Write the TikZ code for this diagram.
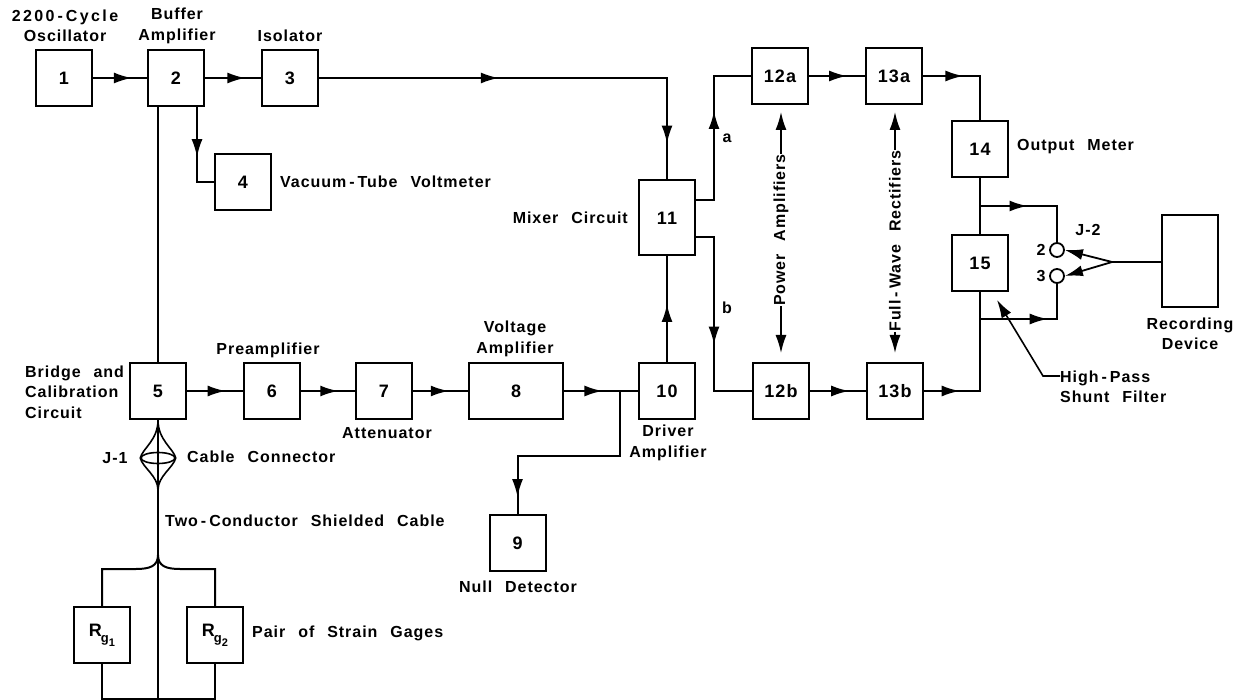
\documentclass[tikz,border=0pt]{standalone}
\usepackage{fontspec}
\usepackage{xcolor}
\usepackage{tikz}
\usetikzlibrary{arrows.meta,decorations.markings,shapes.geometric}
\setmainfont[LetterSpace=6,WordSpace=2.4]{Liberation Sans}
\newcommand{\Rgone}[1]{R\kern-1pt\raisebox{-6pt}{\fontsize{13}{13}\selectfont g\raisebox{-4pt}{\fontsize{11}{11}\selectfont #1}}}
\newcommand{\hy}{\kern3pt-\kern3pt}

\begin{document}
\begin{tikzpicture}[
    x=1pt, y=-1pt,
    box/.style={draw, rectangle, line width=2pt, minimum width=56pt, minimum height=56pt, inner sep=0pt, align=center, font=\fontsize{18}{20}\selectfont\bfseries},
    lbl/.style={align=center, inner sep=0pt, font=\fontsize{16}{20.5}\selectfont\bfseries},
    wire/.style={line width=2pt},
    thinwire/.style={line width=1.6pt},
    flow/.style={wire, postaction={decorate}, decoration={markings, mark=at position #1 with {\arrow{Latex[length=18pt,width=11pt]}}}},
    flowtwo/.style 2 args={wire, postaction={decorate}, decoration={markings, mark=at position #1 with {\arrow{Latex[length=18pt,width=11pt]}}, mark=at position #2 with {\arrow{Latex[length=18pt,width=11pt]}}}},
    arrow/.style={-{Latex[length=18pt,width=11pt]}, line width=1.8pt}
  ]
    \useasboundingbox (0,0) rectangle (1242,700);

    % Boxes
    \node[box] (osc) at (64,78) {1};
    \node[box] (buffer) at (176,78) {2};
    \node[box] (isolator) at (290,78) {3};
    \node[box] (vtvm) at (243,182) {4};
    \node[box] (bridge) at (158,391) {5};
    \node[box] (preamp) at (272,391) {6};
    \node[box] (atten) at (384,391) {7};
    \node[box, minimum width=94pt] (voltamp) at (516,391) {8};
    \node[box] (null) at (517.5,543) {9};
    \node[box] (driver) at (667,391) {10};
    \node[box, minimum height=75pt] (mixer) at (667,218) {11};
    \node[box] (powera) at (780,76) {12a};
    \node[box] (recta) at (894,76) {13a};
    \node[box] (powerb) at (781,391) {12b};
    \node[box] (rectb) at (895,391) {13b};
    \node[box] (meter) at (980,149) {14};
    \node[box] (filter) at (980,263) {15};
    \node[box, minimum height=92pt] (recorder) at (1190,261) {};
    \node[box] (gageone) at (102,635) {\Rgone{1}};
    \node[box] (gagetwo) at (215,635) {\Rgone{2}};
    \node[draw, circle, line width=1.8pt, minimum size=14pt, inner sep=0pt] (jacktwo) at (1057,250) {};
    \node[draw, circle, line width=1.8pt, minimum size=14pt, inner sep=0pt] (jackthree) at (1057,276) {};
    \node[draw, ellipse, thinwire, minimum width=34pt, minimum height=11pt, inner sep=0pt] (lens) at (158,458) {};

    % Labels
    \node[lbl] (oscl) at (65,26) {{\addfontfeature{LetterSpace=15}2200\hy Cycle}\\Oscillator};
    \node[lbl] (bufferl) at (177,26) {Buffer\\Amplifier};
    \node[lbl] (isolatorl) at (290,36) {Isolator};
    \node[lbl, anchor=west] (vtvml) at (280,182) {Vacuum\hy Tube Voltmeter};
    \node[lbl, anchor=west, align=left] (bridgel) at (25,392) {Bridge and\\Calibration\\Circuit};
    \node[lbl] (preampl) at (268,350) {Preamplifier};
    \node[lbl] (attenl) at (387,433) {Attenuator};
    \node[lbl] (voltampl) at (515,339) {Voltage\\Amplifier};
    \node[lbl] (driverl) at (668,443) {Driver\\Amplifier};
    \node[lbl] (nulll) at (518,587) {Null Detector};
    \node[lbl, anchor=east] (mixerl) at (628,218) {Mixer Circuit};
    \node[lbl] (al) at (727,138) {a};
    \node[lbl] (bl) at (727,308) {b};
    \node[lbl, rotate=90] (poweral) at (781,230) {Power Amplifiers};
    \node[lbl, rotate=90] (rectl) at (895,241) {Full\hy Wave Rectifiers};
    \node[lbl, anchor=west] (meterl) at (1017,147) {Output Meter};
    \node[lbl] (jtwol) at (1088,230) {J-2};
    \node[lbl] (pintwo) at (1041,250) {2};
    \node[lbl] (pinthree) at (1041,276) {3};
    \node[lbl] (recorderl) at (1190,334) {Recording\\Device};
    \node[lbl, anchor=west, align=left] (filterl) at (1060,387) {High\hy Pass\\Shunt Filter};
    \node[lbl] (jonel) at (115,458) {J-1};
    \node[lbl, anchor=west] (lensl) at (187,457) {Cable Connector};
    \node[lbl, anchor=west] (cablel) at (165,521) {Two\hy Conductor Shielded Cable};
    \node[lbl, anchor=west] (gagel) at (252,633) {Pair of Strain Gages};

    % Junctions
    \coordinate (vtap) at (197,106);
    \coordinate (nulltap) at (620,391);
    \coordinate (nullbend) at (517.5,456);
    \coordinate (mixa) at (695,200);
    \coordinate (mixb) at (695,237);
    \coordinate (splitter) at (1112,262);
    \coordinate (cablein) at (158,490);
    \coordinate (cableout) at (158,555);
    \coordinate (bottomright) at (215,699);
    \coordinate (topfilter) at (980,206);
    \coordinate (botfilter) at (981,319);

    % Top row
    \draw[flow=0.72] (osc) -- (buffer);
    \draw[flow=0.72] (buffer) -- (isolator);
    \draw[flowtwo={0.4}{0.92}] (isolator.east) -- (mixer.north |- isolator.east) -- (mixer.north);
    \draw[wire] (bridge.north) -- (bridge.north |- buffer.south);
    \draw[flow=0.55] (vtap) |- (vtvm.west);

    % Bottom row
    \draw[flow=0.69] (bridge) -- (preamp);
    \draw[flow=0.69] (preamp) -- (atten);
    \draw[flow=0.65] (atten) -- (voltamp);
    \draw[flow=0.52] (voltamp) -- (driver);
    \draw[flow=0.925] (nulltap) |- (nullbend) -- (null.north);
    \draw[flow=0.55] (driver) -- (mixer);

    % Channels a and b
    \draw[flow=0.6] (mixa) -| (714,76) -- (powera.west);
    \draw[flow=0.6] (mixb) -| (714,391) -- (powerb.west);
    \draw[flow=0.68] (powera) -- (recta);
    \draw[flow=0.7] (powerb) -- (rectb);
    \draw[flow=0.4] (recta.east) -| (meter.north);
    \draw[flow=0.23] (rectb.east) -| (filter.south);

    % Output
    \draw[wire] (meter) -- (filter);
    \draw[flow=0.42] (topfilter) -| (jacktwo.north);
    \draw[flow=0.6] (botfilter) -| (jackthree.south);
    \draw[wire] (recorder.west |- splitter) -- (splitter);
    \draw[arrow] (splitter) -- (jacktwo.east);
    \draw[arrow] (splitter) -- (jackthree.east);

    % Side arrows
    \draw[arrow, thinwire] (poweral.east) -- (781,112);
    \draw[arrow, thinwire] (poweral.west) -- (781,353);
    \draw[arrow, thinwire] (rectl.east) -- (895,112);
    \draw[arrow, thinwire] (rectl.west) -- (895,353);
    \draw[arrow, thinwire] (filterl.north west |- 0,376) -- (1043,376) -- (997,300);

    % Cable
    \draw[thinwire] (bridge.south) .. controls (158,440) and (143,448) .. (lens.west);
    \draw[thinwire] (bridge.south) .. controls (158,440) and (173,448) .. (lens.east);
    \draw[thinwire] (lens.west) .. controls (143,468) and (158,476) .. (cablein);
    \draw[thinwire] (lens.east) .. controls (173,468) and (158,476) .. (cablein);
    \draw[thinwire] (bridge.south) -- (cablein);
    \draw[wire] (cablein) -- (cableout);
    \draw[wire] (cableout) .. controls (158,566) and (150,569) .. (136,569) -| (gageone.north);
    \draw[wire] (cableout) .. controls (158,566) and (166,569) .. (180,569) -| (gagetwo.north);
    \draw[wire] (cableout) -- (158,699);
    \draw[wire] (gageone.south) |- (bottomright) -- (gagetwo.south);
  \end{tikzpicture}
\end{document}
